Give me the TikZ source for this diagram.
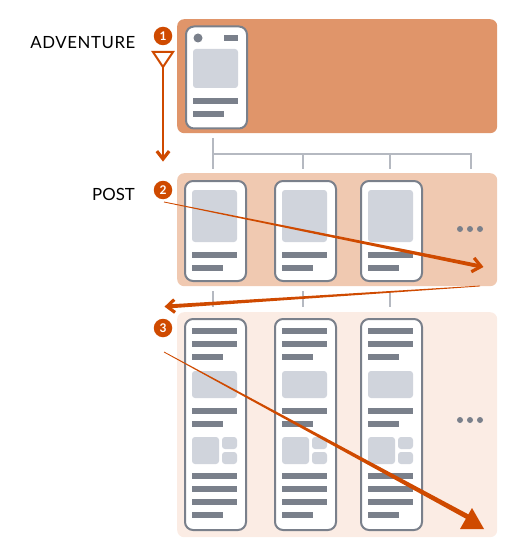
\documentclass[tikz,border=0pt]{standalone}
\usepackage{fontspec}
\setmainfont{Lato}
\usetikzlibrary{calc}
\definecolor{advbg}{HTML}{E0956A}
\definecolor{postbg}{HTML}{F0C9B1}
\definecolor{feedbg}{HTML}{FBECE4}
\definecolor{accent}{HTML}{CF4A00}
\definecolor{ink}{HTML}{7A808B}
\definecolor{ph}{HTML}{D0D4DC}
\definecolor{treec}{HTML}{B5B9C1}
\begin{document}
\begin{tikzpicture}[x=1pt,y=-1pt,
 panel/.style={fill=#1, rounded corners=7pt, draw=none, inner sep=0pt, anchor=north west},
 card/.style={draw=ink, line width=2pt, fill=white, rounded corners=8pt, inner sep=0pt, anchor=north west},
 img/.style={fill=ph, rounded corners=3pt},
 badge/.style={circle, fill=accent, text=white, font=\bfseries\fontsize{12}{12}\selectfont, inner sep=0pt, minimum size=18.5pt},
 lbl/.style={font=\fontsize{16.8}{18}\selectfont, anchor=east, inner sep=0pt},
 treeline/.style={draw=treec, line width=1.5pt},
 chev/.style={draw=accent, line width=3.2pt, line join=miter, line cap=butt},
 dotn/.style={circle, fill=ink, inner sep=0pt, minimum size=6pt}]
\useasboundingbox (0,0) rectangle (527,556);

% panels
\node[panel=advbg, minimum width=320pt, minimum height=114pt] (adv) at (177,19) {};
\node[panel=postbg, minimum width=320pt, minimum height=113pt] (post) at (177,173) {};
\node[panel=feedbg, minimum width=320pt, minimum height=225pt] (feed) at (177,312) {};

% labels
\node[lbl] (advlbl) at (135,43) {\addfontfeature{LetterSpace=3.5}ADVENTURE\kern-0.6pt};
\node[lbl] (postlbl) at (135,194.5) {POST};

% adventure card
\node[card, minimum width=61pt, minimum height=102pt] (c0) at (185,25.5) {};
\fill[ink] (198,38) circle (4.5);
\fill[ink] (224,35) rectangle (238,41);
\fill[img] (193,49) rectangle (238,88);
\fill[ink] (193,98) rectangle (238,104);
\fill[ink] (193,111) rectangle (224,117);

% tree connectors
\coordinate (ta) at (213,138);
\coordinate (tb) at (213,169);
\coordinate (h1) at (213,154);
\coordinate (h4) at (471,154);
\draw[treeline] (ta) -- (tb);
\draw[treeline] (h1) -- (h4) -- (471,169);
\draw[treeline] (303,154) -- (303,169);
\draw[treeline] (390,154) -- (390,169);
\foreach \x in {213,303,390}{\draw[treeline] (\x,291) -- (\x,307);}

% post cards
\foreach \L/\n in {183/p1,273/p2,359/p3}{
  \node[card, minimum width=61pt, minimum height=100pt] (\n) at ({\L+1},180) {};
  \fill[img] ({\L+9},190) rectangle ({\L+54},242);
  \fill[ink] ({\L+9},252) rectangle ({\L+54},258);
  \fill[ink] ({\L+9},265) rectangle ({\L+40},271);
}
\node[dotn] (pd1) at (460,229) {};
\node[dotn] (pd2) at (470,229) {};
\node[dotn] (pd3) at (480,229) {};

% feed cards
\foreach \L/\n in {183/f1,273/f2,359/f3}{
  \node[card, minimum width=61pt, minimum height=211pt] (\n) at ({\L+1},318) {};
  \foreach \y in {328,341,408,473,486,499}{\fill[ink] ({\L+9},\y) rectangle ({\L+54},{\y+6});}
  \foreach \y in {354,421,512}{\fill[ink] ({\L+9},\y) rectangle ({\L+40},{\y+6});}
  \fill[img] ({\L+9},371) rectangle ({\L+54},398);
  \fill[img] ({\L+9},437) rectangle ({\L+36},464);
  \fill[img] ({\L+39},437) rectangle ({\L+54},449);
  \fill[img] ({\L+39},452) rectangle ({\L+54},464);
}
\node[dotn] (fd1) at (460,420) {};
\node[dotn] (fd2) at (470,420) {};
\node[dotn] (fd3) at (480,420) {};

% badges
\node[badge] (b1) at (163,36) {1};
\node[badge] (b2) at (163,190) {2};
\node[badge] (b3) at (163,328) {3};

% arrow 1
\coordinate (a1s) at (163,67);
\coordinate (a1e) at (163,159);
\draw[accent, line width=2pt, fill=white, line join=miter] (153,52) -- (173,52) -- (a1s) -- cycle;
\draw[accent, line width=2pt] (a1s) -- ($(a1e)+(0,-2)$);
\draw[chev] ($(a1e)!10pt!38:(a1s)$) -- (a1e) -- ($(a1e)!10pt!-38:(a1s)$);

% arrow 2
\coordinate (a2s) at (164,202);
\coordinate (a2e) at (481,266.5);
\fill[accent] ($(a2s)!0.4pt!90:(a2e)$) -- ($(a2e)!2pt!-90:(a2s)$) -- ($(a2e)!2pt!90:(a2s)$) -- ($(a2s)!0.4pt!-90:(a2e)$) -- cycle;
\draw[chev] ($(a2e)!11pt!40:(a2s)$) -- (a2e) -- ($(a2e)!11pt!-40:(a2s)$);

% arrow back
\coordinate (abs) at (480,286);
\coordinate (abe) at (167,306.5);
\fill[accent] ($(abs)!0.4pt!90:(abe)$) -- ($(abe)!2pt!-90:(abs)$) -- ($(abe)!2pt!90:(abs)$) -- ($(abs)!0.4pt!-90:(abe)$) -- cycle;
\draw[chev] ($(abe)!10pt!40:(abs)$) -- (abe) -- ($(abe)!10pt!-40:(abs)$);

% arrow 3
\coordinate (a3s) at (164,352);
\coordinate (a3e) at (468,517);
\fill[accent] ($(a3s)!0.4pt!90:(a3e)$) -- ($(a3e)!2.5pt!-90:(a3s)$) -- ($(a3e)!2.5pt!90:(a3s)$) -- ($(a3s)!0.4pt!-90:(a3e)$) -- cycle;
\fill[accent] (460,529) -- (484,529) -- (472,508) -- cycle;
\end{tikzpicture}
\end{document}
